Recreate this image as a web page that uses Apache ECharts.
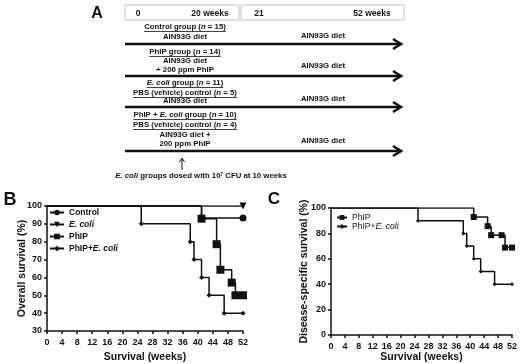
<!DOCTYPE html>
<html>
<head>
<meta charset="utf-8">
<script src="https://cdn.jsdelivr.net/npm/echarts@6/dist/echarts.min.js"></script>
<style>
  html, body { margin: 0; padding: 0; background: #fff; }
  #main { width: 520px; height: 364px; }
</style>
</head>
<body>
<div id="main"></div>
<script>
// survival data, [week, % surviving]
const bControl = [[0, 100], [41, 93.3], [52, 93.3]];
const bEcoli = [[0, 100], [52, 100]];
const bPhip = [[0, 100], [41, 92.9], [45, 78.6], [46, 64.3], [49, 57.1], [50, 50], [52, 50]];
const bPhipEcoli = [[0, 100], [25, 90], [38, 80], [39, 70], [41, 60], [43, 50], [47, 40], [52, 40]];
const cPhip = [[0, 100], [41, 92.9], [45, 85.7], [46, 78.6], [49, 78.6], [50, 68.8], [52, 68.8]];
const cPhipEcoli = [[0, 100], [25, 90], [38, 80], [39, 70], [41, 60], [43, 50], [47, 40], [52, 40]];

const bNames = ['Control', 'E. coli', 'PhIP', 'PhIP+E. coli'];
const cNames = ['C:PhIP', 'C:PhIP+E. coli'];

// study design text (panel A)
const headerLabels = ['0', '20 weeks', '21', '52 weeks'];
const groupLines = [
  'Control group ({i|n} = 15)', 'AIN93G diet',
  'PhIP group ({i|n} = 14)', 'AIN93G diet', '+ 200 ppm PhIP',
  '{i|E. coli} group ({i|n} = 11)', 'PBS (vehicle) control ({i|n} = 5)', 'AIN93G diet',
  'PhIP + {i|E. coli} group ({i|n} = 10)', 'PBS (vehicle) control ({i|n} = 4)', 'AIN93G diet +', '200 ppm PhIP'
];
const lateDiet = 'AIN93G diet';
const doseNote = '{i|E. coli} groups dosed with 10{s|7} CFU at 10 weeks';

const FONT = '"Liberation Sans", Arial, sans-serif';
const INK = '#111';

const chart = echarts.init(document.getElementById('main'));

const cv = document.createElement('canvas').getContext('2d');
function textWidth(s, size) {
  let w = 0;
  s.split(/(\{i\|[^}]*\})/).forEach(part => {
    const m = part.match(/^\{i\|([^}]*)\}$/);
    cv.font = (m ? 'italic ' : '') + 'bold ' + size + 'px ' + FONT;
    w += cv.measureText(m ? m[1] : part).width;
  });
  return w;
}

function txt(s, x, y, size, align) {
  return {
    type: 'text', x: x, y: y,
    style: {
      text: s, fill: INK, font: 'bold ' + size + 'px ' + FONT,
      textAlign: align || 'center', textVerticalAlign: 'middle',
      align: align || 'center', verticalAlign: 'middle',
      rich: {
        i: { fontStyle: 'italic', fontWeight: 'bold', fontSize: size, fontFamily: FONT, fill: INK },
        s: { fontWeight: 'bold', fontSize: size * 0.6, fontFamily: FONT, fill: INK, verticalAlign: 'top' }
      }
    }
  };
}
function line(x1, y1, x2, y2, w) {
  return { type: 'line', shape: { x1: x1, y1: y1, x2: x2, y2: y2 }, style: { stroke: INK, lineWidth: w } };
}
function chevron(pts, w) {
  return { type: 'polyline', shape: { points: pts }, style: { stroke: INK, lineWidth: w, fill: null } };
}

// panel A drawing
const graphics = [];
graphics.push(txt('A', 97, 14, 16));
graphics.push(txt('B', 10, 200, 18));
graphics.push(txt('C', 274, 199, 17));

graphics.push({ type: 'rect', shape: { x: 125, y: 5, width: 114, height: 15 }, style: { fill: '#fff', stroke: '#c4c4c4', lineWidth: 1 } });
graphics.push({ type: 'rect', shape: { x: 241, y: 5, width: 163, height: 15 }, style: { fill: '#fff', stroke: '#c4c4c4', lineWidth: 1 } });
[138, 210, 259, 372].forEach((x, i) => graphics.push(txt(headerLabels[i], x, 13.5, 8.5)));

const leftY = [27, 37, 52, 61, 70, 83, 93, 101, 115, 125, 135, 144];
const underlined = [true, false, true, false, false, true, true, false, true, true, false, false];
groupLines.forEach((s, i) => {
  graphics.push(txt(s, 185, leftY[i], 7.8));
  if (underlined[i]) {
    const w = textWidth(s, 7.8);
    graphics.push(line(185 - w / 2, leftY[i] + 4.5, 185 + w / 2, leftY[i] + 4.5, 0.8));
  }
});
[36, 66, 99, 141].forEach(y => graphics.push(txt(lateDiet, 323, y, 7.8)));
[44, 76, 107, 151].forEach(y => {
  graphics.push(line(125, y, 400, y, 2.6));
  graphics.push(chevron([[393, y - 5], [401, y], [393, y + 5]], 2.6));
});
graphics.push(line(182, 170, 182, 159, 1));
graphics.push(chevron([[179.5, 162], [182, 158], [184.5, 162]], 1));
graphics.push(txt(doseNote, 201, 176, 7.8));

function xAxis(grid, gap) {
  return {
    type: 'value', gridIndex: grid, min: 0, max: 52, interval: 4,
    name: 'Survival (weeks)', nameLocation: 'middle', nameGap: gap,
    nameTextStyle: { fontWeight: 'bold', fontSize: 10.5, color: INK, fontFamily: FONT },
    axisLine: { onZero: false, lineStyle: { color: INK, width: 1.5 } },
    axisTick: { length: 3, lineStyle: { color: INK, width: 1.5 } },
    axisLabel: { fontWeight: 'bold', fontSize: 9, color: INK, margin: 7, fontFamily: FONT },
    splitLine: { show: false }
  };
}
function yAxis(grid, min, step, name, gap) {
  return {
    type: 'value', gridIndex: grid, min: min, max: 100, interval: step,
    name: name, nameLocation: 'middle', nameGap: gap, nameMoveOverlap: false,
    nameTextStyle: { fontWeight: 'bold', fontSize: 10.5, color: INK, fontFamily: FONT },
    axisLine: { show: true, onZero: false, lineStyle: { color: INK, width: 1.5 } },
    axisTick: { show: true, length: 3, lineStyle: { color: INK, width: 1.5 } },
    axisLabel: { fontWeight: 'bold', fontSize: 9, color: INK, margin: 5, fontFamily: FONT },
    splitLine: { show: false }
  };
}

function km(name, data, grid, symbol, size, rotate) {
  return {
    name: name, type: 'line', xAxisIndex: grid, yAxisIndex: grid,
    step: 'end', symbol: symbol, symbolSize: size, symbolRotate: rotate || 0,
    data: data.map((p, i) => i === 0 ? { value: p, symbol: 'none' } : p),
    lineStyle: { color: INK, width: 1.5 },
    itemStyle: { color: INK },
    animation: false
  };
}

const richLegend = size => ({ i: { fontStyle: 'italic', fontWeight: 'bold', fontSize: size, fontFamily: FONT, color: INK } });

chart.setOption({
  backgroundColor: '#fff',
  textStyle: { fontFamily: FONT },
  graphic: graphics,
  grid: [
    { left: 47, top: 206, width: 196, height: 127 },
    { left: 331, top: 208, width: 184, height: 128 }
  ],
  xAxis: [xAxis(0, 21), xAxis(1, 17)],
  yAxis: [
    yAxis(0, 30, 10, 'Overall survival (%)', 19),
    yAxis(1, 0, 20, 'Disease-specific survival (%)', 21)
  ],
  legend: [
    {
      data: bNames, orient: 'vertical', left: 44, top: 203,
      itemWidth: 14, itemHeight: 7, itemGap: 3,
      formatter: n => n.replace('E. coli', '{i|E. coli}'),
      textStyle: { fontWeight: 'bold', fontSize: 8.5, color: INK, rich: richLegend(8.5) }
    },
    {
      data: cNames, orient: 'vertical', left: 331, top: 208,
      itemWidth: 10, itemHeight: 6, itemGap: 0,
      formatter: n => n.replace('C:', '').replace('E. coli', '{i|E. coli}'),
      textStyle: { fontSize: 8.5, color: INK, rich: { i: { fontStyle: 'italic', fontSize: 8.5, fontFamily: FONT, color: INK } } }
    }
  ],
  series: [
    km('Control', bControl, 0, 'circle', 7),
    km('E. coli', bEcoli, 0, 'triangle', 7, 180),
    km('PhIP', bPhip, 0, 'rect', 8),
    km('PhIP+E. coli', bPhipEcoli, 0, 'diamond', 5),
    km('C:PhIP', cPhip, 1, 'rect', 6),
    km('C:PhIP+E. coli', cPhipEcoli, 1, 'diamond', 4)
  ]
});
</script>
</body>
</html>
